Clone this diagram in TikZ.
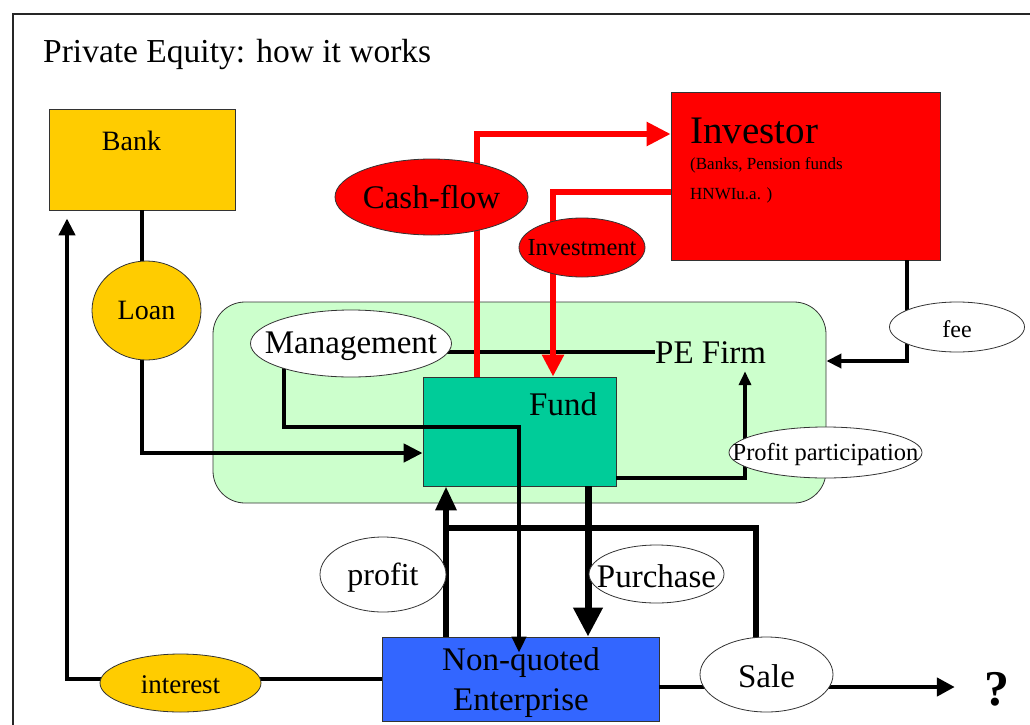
\documentclass[tikz,border=0pt]{standalone}
\usepackage{fontspec}
\setmainfont{Liberation Serif}
\usetikzlibrary{arrows.meta,shapes.geometric}
\pgfdeclarelayer{background}
\pgfdeclarelayer{foreground}
\pgfsetlayers{background,main,foreground}
\newcommand\fsz[1]{\fontsize{#1}{#1}\selectfont}
\definecolor{gold}{HTML}{FFCC00}
\definecolor{invred}{HTML}{FF0000}
\definecolor{firmgreen}{HTML}{CCFFCC}
\definecolor{fundgreen}{HTML}{00CC99}
\definecolor{entblue}{HTML}{3366FF}
\definecolor{edge}{HTML}{333333}

\begin{document}
\begin{tikzpicture}[x=1pt,y=-1pt,
  box/.style={rectangle, draw=edge, line width=0.8pt, inner sep=0pt},
  oval/.style={ellipse, draw=edge, line width=0.8pt, inner sep=0pt, fill=white},
  txt/.style={inner sep=0pt, anchor=base},
  txtw/.style={inner sep=0pt, anchor=base west},
  flow/.style={line width=4.5pt, black},
  cash/.style={line width=5.5pt, invred},
  arr/.style 2 args={-{Triangle[length=#1pt, width=#2pt]}}
]
\useasboundingbox (0,0) rectangle (1030,725);

% boxes and their texts
\begin{pgfonlayer}{background}
  \draw[line width=1.5pt, black!85] (1032,14) -- (13,14) -- (13,727);
  \node[box, fill=firmgreen, rounded corners=32pt, minimum width=613pt, minimum height=201pt] (firm) at (519.5,402.5) {};
  \node[box, fill=gold, minimum width=186pt, minimum height=101pt] (bank) at (142,159.5) {};
  \node[box, fill=invred, minimum width=269pt, minimum height=168pt] (investor) at (805.5,176) {};
  \node[box, fill=fundgreen, minimum width=193pt, minimum height=109pt] (fund) at (519.5,431.5) {};
  \node[box, fill=entblue, minimum width=277pt, minimum height=84pt] (nqe) at (520.5,679) {};

  \node[txtw, font=\fsz{33.5}] (title) at (43,63) {Private Equity: how it works};
  \node[txt, font=\fsz{28}] (banklbl) at (131.5,150) {Bank};
  \node[txtw, font=\fsz{39}] (invlbl) at (690,143) {Investor};
  \node[txtw, font=\fsz{17}] (invsub1) at (690,169) {(Banks, Pension funds};
  \node[txtw, font=\fsz{17}] (invsub2) at (690,199) {HNWIu.a. )};
  \node[txtw, font=\fsz{33}] (pe) at (655,363) {PE Firm};
  \node[txtw, font=\fsz{33}] (fundlbl) at (529,415) {Fund};
  \node[txt, font=\fsz{33}] (nq1) at (521,670) {Non-quoted};
  \node[txt, font=\fsz{33}] (nq2) at (521,710) {Enterprise};
  \node[txt, font=\fsz{50}\bfseries] (q) at (996.5,705) {?};
\end{pgfonlayer}

% labelled ovals sit above the flows
\begin{pgfonlayer}{foreground}
  \node[oval, fill=gold, minimum width=109pt, minimum height=99pt, label={[font=\fsz{28}]center:Loan}] (loan) at (146.5,310.5) {};
  \node[oval, fill=invred, minimum width=193pt, minimum height=76pt, label={[font=\fsz{33}]center:Cash-flow}] (cashflow) at (431.5,197) {};
  \node[oval, fill=invred, minimum width=126pt, minimum height=59pt, label={[font=\fsz{24.5}]center:Investment}] (investment) at (582,247.5) {};
  \node[oval, minimum width=201pt, minimum height=67pt, label={[font=\fsz{33}, yshift=-3pt]center:Management}] (mgmt) at (351,343.5) {};
  \node[oval, minimum width=135pt, minimum height=50pt, label={[font=\fsz{24}, yshift=-2pt]center:fee}] (fee) at (957,327) {};
  \node[oval, minimum width=193pt, minimum height=51pt, label={[font=\fsz{24.5}, yshift=-2pt]center:Profit participation}] (ppart) at (825.5,452.5) {};
  \node[oval, minimum width=126pt, minimum height=75pt, label={[font=\fsz{32}, yshift=-3pt]center:profit}] (profit) at (383,574.5) {};
  \node[oval, minimum width=135pt, minimum height=58pt, label={[font=\fsz{33}, yshift=-2pt]center:Purchase}] (purchase) at (656.5,574) {};
  \node[oval, minimum width=133pt, minimum height=75pt, label={[font=\fsz{33}, yshift=-2pt]center:Sale}] (sale) at (766.5,674.5) {};
  \node[oval, fill=gold, minimum width=161pt, minimum height=58pt, label={[font=\fsz{27}, yshift=-2pt]center:interest}] (interest) at (180.5,683) {};
\end{pgfonlayer}

% bank loan into the fund, interest back to the bank
\coordinate (lj) at (142,453);
\draw[flow] (bank.south) -- (bank.south |- loan.center);
\draw[flow, arr={19}{18}] (lj |- loan.center) -- (lj) -- (lj -| fund.west);
\draw[flow, arr={17}{16}, shorten >=8pt] (nqe.west) -| ([xshift=-75pt]bank.south);

% management
\coordinate (m1) at (284,427);
\coordinate (m2) at (519,427);
\draw[flow, arr={16}{14}] (m1 |- mgmt.center) -- (m1) -- (m2) -- ([yshift=-16pt]m2 |- nqe.north);
\draw[flow] (mgmt.center |- pe.west) -- (pe.west);

% investor flows
\coordinate (cf) at (477,134);
\draw[cash, arr={24}{23}] (fund.north -| cf) -- (cf) -- (cf -| investor.west);
\coordinate (iv) at (553,192);
\draw[cash, arr={22}{21}] (iv -| investor.west) -- (iv) -- (iv |- fund.north);
\coordinate (fe) at (907,361);
\draw[flow, arr={15}{14}] (fe |- investor.south) -- (fe) -- (fe -| firm.east);

% profit participation of the PE firm
\coordinate (pp) at (745,478);
\draw[line width=4pt, arr={14}{12}, shorten >=8pt] (pp -| fund.east) -- (pp) -- (pp |- pe.south);

% fund and enterprise
\coordinate (pf) at (446,528);
\coordinate (sl) at (756,528);
\draw[line width=6pt, arr={24}{20}] (pf |- nqe.north) -- (pf |- fund.south);
\draw[line width=6pt] (pf) -- (sl) -- (sl |- sale.center);
\coordinate (pu) at (588,500);
\draw[line width=7pt, arr={29}{28}] (fund.south -| pu) -- (nqe.north -| pu);

% exit
\coordinate (sa) at (659,687);
\draw[flow, arr={18}{18}, shorten >=29pt] (sa) -- (sa -| q.west);
\end{tikzpicture}
\end{document}
